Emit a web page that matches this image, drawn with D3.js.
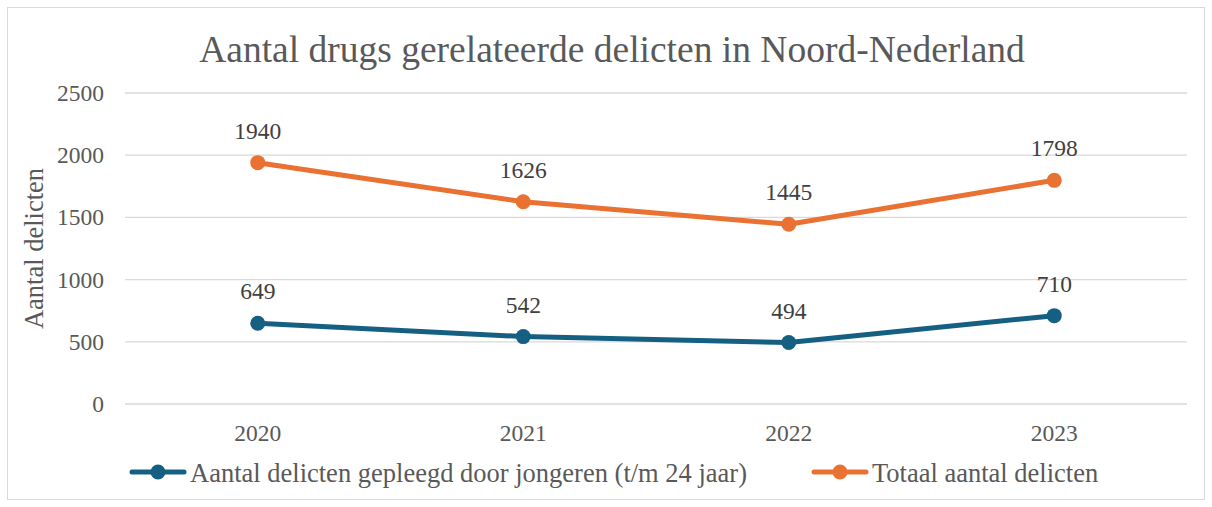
<!DOCTYPE html>
<html>
<head>
<meta charset="utf-8">
<script src="https://cdn.jsdelivr.net/npm/d3@7"></script>
<style>
  body { margin: 0; background: #fff; }
  svg text { font-family: "Liberation Serif", "Times New Roman", serif !important; }
</style>
</head>
<body>
<div id="chart"></div>
<script>
// Chart data
var years = ["2020", "2021", "2022", "2023"];
var jongeren = [649, 542, 494, 710];
var totaal = [1940, 1626, 1445, 1798];
var yTicks = [0, 500, 1000, 1500, 2000, 2500];
var seriesNames = ["Aantal delicten gepleegd door jongeren (t/m 24 jaar)", "Totaal aantal delicten"];
var seriesColors = ["#156082", "#E97132"];

var width = 1212;
var height = 507;
var margin = { left: 125, right: 25, top: 93, bottom: 103 };

var svg = d3.select("#chart").append("svg")
    .attr("width", width)
    .attr("height", height);

// Outer border
svg.append("rect")
    .attr("x", 7.5).attr("y", 7.5)
    .attr("width", width - 15).attr("height", height - 15)
    .attr("fill", "#fff")
    .attr("stroke", "#d9d9d9");

var x = d3.scaleBand()
    .domain(years)
    .range([margin.left, width - margin.right]);

var y = d3.scaleLinear()
    .domain([0, 2500])
    .range([height - margin.bottom, margin.top]);

// Title
svg.append("text")
    .attr("x", 612).attr("y", 62)
    .attr("text-anchor", "middle")
    .style("font-size", "37.5px")
    .attr("fill", "#595959")
    .text("Aantal drugs gerelateerde delicten in Noord-Nederland");

// Gridlines
svg.append("g").selectAll("line")
    .data(yTicks)
    .enter().append("line")
    .attr("x1", margin.left).attr("x2", width - margin.right)
    .attr("y1", d => y(d)).attr("y2", d => y(d))
    .attr("stroke", "#d9d9d9")
    .attr("stroke-width", 1.3);

// Y axis labels
var yAxis = d3.axisLeft(y).tickValues(yTicks).tickFormat(d3.format("d"))
    .tickSize(0).tickPadding(21);
svg.append("g")
    .attr("transform", "translate(" + margin.left + ",0)")
    .call(yAxis)
    .call(g => g.select(".domain").remove())
    .selectAll("text")
    .style("font-size", "23.5px")
    .attr("fill", "#595959");

// X axis labels
var xAxis = d3.axisBottom(x).tickSize(0).tickPadding(20);
svg.append("g")
    .attr("transform", "translate(0," + y(0) + ")")
    .call(xAxis)
    .call(g => g.select(".domain").remove())
    .selectAll("text")
    .style("font-size", "23.5px")
    .attr("fill", "#595959");

// Y axis title
svg.append("text")
    .attr("transform", "translate(43," + y(1250) + ")rotate(-90)")
    .attr("text-anchor", "middle")
    .style("font-size", "26.5px")
    .attr("fill", "#595959")
    .text("Aantal delicten");

var line = d3.line()
    .x((d, i) => x(years[i]) + x.bandwidth() / 2)
    .y(d => y(d));

[jongeren, totaal].forEach(function(series, s) {
    var g = svg.append("g");
    g.append("path")
        .datum(series)
        .attr("d", line)
        .attr("fill", "none")
        .attr("stroke", seriesColors[s])
        .attr("stroke-width", 5)
        .attr("stroke-linejoin", "round");
    g.selectAll("circle")
        .data(series)
        .enter().append("circle")
        .attr("cx", (d, i) => x(years[i]) + x.bandwidth() / 2)
        .attr("cy", d => y(d))
        .attr("r", 7.5)
        .attr("fill", seriesColors[s]);
    g.selectAll("text")
        .data(series)
        .enter().append("text")
        .attr("x", (d, i) => x(years[i]) + x.bandwidth() / 2)
        .attr("y", d => y(d) - 24)
        .attr("text-anchor", "middle")
        .style("font-size", "23.5px")
        .attr("fill", "#404040")
        .text(d => d);
});

// Legend
var legendX = [130, 812];
seriesNames.forEach(function(name, s) {
    var lg = svg.append("g").attr("transform", "translate(" + legendX[s] + ",472)");
    lg.append("line")
        .attr("x1", 2).attr("x2", 54)
        .attr("stroke", seriesColors[s])
        .attr("stroke-width", 5)
        .attr("stroke-linecap", "round");
    lg.append("circle")
        .attr("cx", 28).attr("r", 7.5)
        .attr("fill", seriesColors[s]);
    lg.append("text")
        .attr("x", 60).attr("y", 9.5)
        .style("font-size", "26.5px")
        .attr("fill", "#595959")
        .text(name);
});
</script>
</body>
</html>
